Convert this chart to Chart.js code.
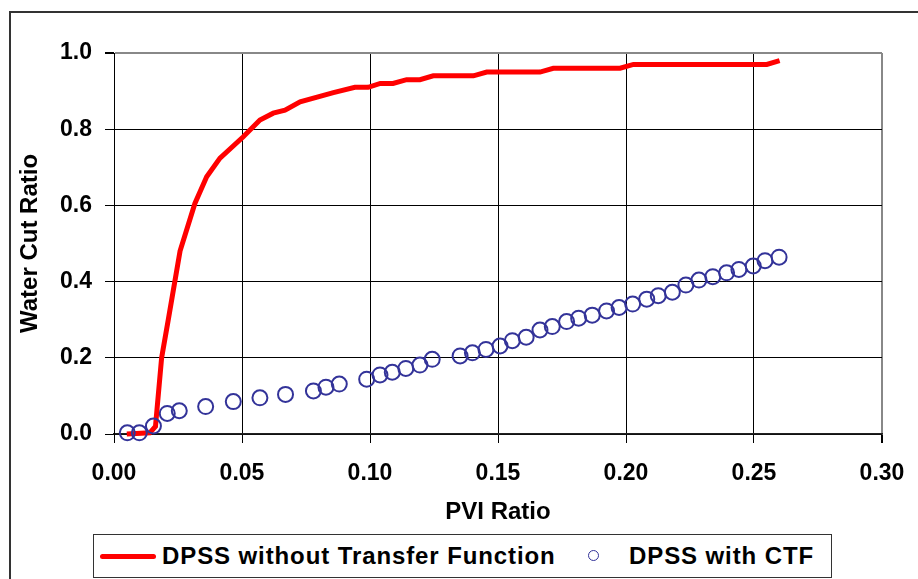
<!DOCTYPE html>
<html>
<head>
<meta charset="utf-8">
<script src="https://cdn.jsdelivr.net/npm/chart.js@4.4.1/dist/chart.umd.min.js"></script>
<style>
  html, body { margin: 0; padding: 0; background: #fff; overflow: hidden; }
  #wrap { position: relative; width: 918px; height: 579px; }
  #frame { position: absolute; left: 9px; top: 11px; width: 950px; height: 620px; border: 2px solid #333; }
  #myChart { position: absolute; left: 0; top: 0; }
  #legend { position: absolute; left: 93px; top: 534px; width: 737px; height: 42px; border: 1.5px solid #333; background: #fff;
    font-family: "Liberation Sans", Arial, sans-serif; font-weight: bold; font-size: 24px; color: #000; }
  #legend span { position: absolute; }
  .lbl { top: 6px; line-height: 30px; white-space: nowrap; letter-spacing: 0.9px; }
</style>
</head>
<body>
<div id="wrap">
  <div id="frame"></div>
  <canvas id="myChart" width="918" height="579"></canvas>
  <div id="legend"></div>
</div>
<script>
// series
var redX = [0.005, 0.014, 0.0162, 0.0186, 0.0212, 0.0258, 0.0316, 0.0362, 0.0414, 0.0505, 0.057, 0.0622, 0.0668, 0.0727, 0.0857, 0.0941, 0.0993, 0.104, 0.109, 0.1143, 0.1195, 0.1247, 0.1404, 0.1456, 0.1664, 0.1716, 0.1977, 0.2029, 0.255, 0.260];
var redY = [0.0, 0.003, 0.02, 0.20, 0.30, 0.48, 0.605, 0.675, 0.724, 0.78, 0.824, 0.842, 0.85, 0.872, 0.896, 0.91, 0.91, 0.92, 0.92, 0.93, 0.93, 0.94, 0.94, 0.95, 0.95, 0.96, 0.96, 0.97, 0.97, 0.98];

var blueX = [0.0052, 0.0099, 0.0154, 0.0208, 0.0255, 0.0358, 0.0466, 0.057, 0.067, 0.0779, 0.0828, 0.088, 0.0987, 0.1039, 0.1087, 0.114, 0.1195, 0.1243, 0.1352, 0.14, 0.1453, 0.1508, 0.1556, 0.161, 0.1664, 0.1712, 0.1768, 0.1815, 0.1868, 0.1924, 0.1973, 0.2026, 0.2081, 0.2126, 0.2181, 0.2234, 0.2285, 0.2339, 0.2393, 0.2441, 0.2497, 0.2543, 0.2598];
var blueY = [0.003, 0.003, 0.021, 0.054, 0.061, 0.072, 0.085, 0.095, 0.104, 0.113, 0.123, 0.131, 0.144, 0.155, 0.162, 0.172, 0.181, 0.196, 0.205, 0.213, 0.222, 0.231, 0.245, 0.254, 0.273, 0.282, 0.295, 0.304, 0.312, 0.323, 0.332, 0.341, 0.354, 0.363, 0.372, 0.391, 0.404, 0.413, 0.423, 0.432, 0.441, 0.455, 0.464];

var seriesNames = ['DPSS without Transfer Function', 'DPSS with CTF'];
var xTitle = 'PVI Ratio';
var yTitle = 'Water Cut Ratio';

function pairs(xs, ys) {
  var out = [];
  for (var i = 0; i < xs.length; i++) out.push({ x: xs[i], y: ys[i] });
  return out;
}

var tickFont = { family: '"Liberation Sans", Arial, sans-serif', weight: 'bold', size: 23 };
var titleFont = { family: '"Liberation Sans", Arial, sans-serif', weight: 'bold', size: 24 };

var ctx = document.getElementById('myChart').getContext('2d');
var myChart = new Chart(ctx, {
  type: 'scatter',
  data: {
    datasets: [
      {
        label: seriesNames[0],
        data: pairs(redX, redY),
        showLine: true,
        borderColor: '#ff0000',
        borderWidth: 5,
        pointRadius: 0,
        tension: 0,
        order: 1,
        clip: false
      },
      {
        label: seriesNames[1],
        data: pairs(blueX, blueY),
        showLine: false,
        borderColor: '#333399',
        backgroundColor: 'rgba(0,0,0,0)',
        borderWidth: 2,
        pointRadius: 7.5,
        order: 0,
        clip: false
      }
    ]
  },
  options: {
    responsive: false,
    animation: false,
    layout: {
      padding: { left: 11.6, top: 53, right: 36, bottom: 48.6 }
    },
    plugins: {
      legend: { display: false },
      tooltip: { enabled: false }
    },
    scales: {
      x: {
        type: 'linear',
        min: 0,
        max: 0.3,
        afterFit: function(scale) {
          scale.height = 96.4;
          scale.paddingLeft = 0;
          scale.paddingRight = 0;
        },
        ticks: {
          stepSize: 0.05,
          color: '#000',
          font: tickFont,
          padding: 17,
          callback: function(v) { return Number(v).toFixed(2); }
        },
        grid: {
          color: function(c) { return c.index === 6 ? '#888' : '#000'; },
          lineWidth: function(c) { return c.index === 6 ? 2 : 1; },
          tickColor: '#000',
          tickLength: 9
        },
        border: { color: '#222', width: 1.5 },
        title: { display: true, text: xTitle, color: '#000', font: titleFont }
      },
      y: {
        min: 0,
        max: 1,
        afterFit: function(scale) {
          scale.width = 102.4;
          scale.paddingTop = 0;
          scale.paddingBottom = 0;
        },
        ticks: {
          stepSize: 0.2,
          color: '#000',
          font: tickFont,
          padding: 13,
          callback: function(v) { return Number(v).toFixed(1); }
        },
        grid: {
          color: function(c) { return c.index === 5 ? '#888' : '#000'; },
          lineWidth: function(c) { return c.index === 5 ? 2 : 1; },
          tickColor: '#000',
          tickLength: 9
        },
        border: { color: '#000', width: 1 },
        title: { display: true, text: yTitle, color: '#000', font: titleFont }
      }
    }
  }
});

// legend built from the dataset labels
var lg = document.getElementById('legend');
lg.innerHTML =
  '<span style="left:6px;top:19px;width:56px;height:5px;border-radius:3px;background:#ff0000"></span>' +
  '<span class="lbl" style="left:68px">' + myChart.data.datasets[0].label + '</span>' +
  '<span style="left:494px;top:15px;width:9px;height:9px;border:1.5px solid #333399;border-radius:50%"></span>' +
  '<span class="lbl" style="left:535px">' + myChart.data.datasets[1].label + '</span>';
</script>
</body>
</html>
